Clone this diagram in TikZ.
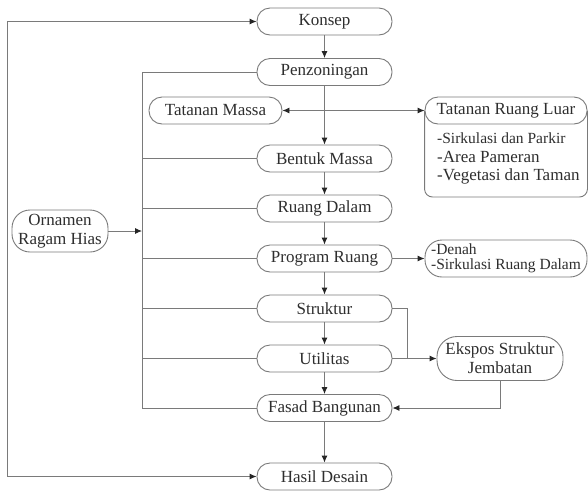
\documentclass[tikz,border=0pt]{standalone}
\usepackage{fontspec}
\setmainfont{Liberation Serif}
\usetikzlibrary{arrows.meta}
\definecolor{lncol}{HTML}{7A7A7A}
\definecolor{txcol}{HTML}{2E2E2E}
\begin{document}
\begin{tikzpicture}[x=1pt,y=-1pt,
  >={Latex[length=7pt,width=6pt,color=black!85]},
  box/.style={draw=lncol, line width=0.9pt, rounded corners=13pt,
    minimum width=135pt, minimum height=27pt, inner sep=0pt,
    font=\fontsize{17}{20}\selectfont, text=txcol, fill=white, align=center},
  ln/.style={draw=lncol, line width=0.9pt},
  arr/.style={ln, ->},
  arrb/.style={ln, <->},
]
\useasboundingbox (0,0) rectangle (588,491);
% main column
\node[box] (kon) at (324.5,21.5) {Konsep};
\node[box] (pen) at (324.5,72) {Penzoningan};
\node[box, minimum width=133pt] (tm) at (215.5,110.5) {Tatanan Massa};
\node[box] (bm) at (324.5,158.5) {Bentuk Massa};
\node[box] (rd) at (324.5,208.5) {Ruang Dalam};
\node[box] (pr) at (324.5,258.5) {Program Ruang};
\node[box] (str) at (324.5,308.5) {Struktur};
\node[box] (uti) at (324.5,358.5) {Utilitas};
\node[box] (fas) at (324.5,408) {Fasad Bangunan};
\node[box] (has) at (324.5,476.5) {Hasil Desain};
% side nodes
\node[box, minimum width=96pt, minimum height=42pt, rounded corners=18pt] (orn) at (60,231) {Ornamen\\[-1pt]Ragam Hias};
\node[box, minimum width=126pt, minimum height=44pt, rounded corners=20pt] (eks) at (500,358.5) {Ekspos Struktur\\[-1pt]Jembatan};
\node[box, minimum width=162pt, minimum height=37pt, rounded corners=17pt, align=left,
  font=\fontsize{15.5}{14.5}\selectfont] (den) at (506,258.5) {-Denah\\-Sirkulasi Ruang Dalam};
% Tatanan Ruang Luar group
\coordinate (trlb) at (506,197);
\node[box, minimum width=162pt] (trl) at (506,110.5) {Tatanan Ruang Luar};
\draw[ln, rounded corners=8pt] (trl.west) -- (trl.west |- trlb) -- (trl.east |- trlb) -- (trl.east);
\node[anchor=north west, inner sep=0pt, align=left, text=txcol,
  font=\fontsize{17}{18.5}\selectfont] (trll) at (437,133)
  {{\fontsize{15.5}{18.5}\selectfont -Sirkulasi dan Parkir}\\-Area Pameran\\-Vegetasi dan Taman};
% vertical flow
\draw[arr] (kon) -- (pen);
\draw[arr] (pen) -- (bm);
\draw[arr] (bm) -- (rd);
\draw[arr] (rd) -- (pr);
\draw[arr] (pr) -- (str);
\draw[arr] (str) -- (uti);
\draw[arr] (uti) -- (fas);
\draw[arr] (fas) -- (has);
% tatanan row
\draw[arrb] (tm.east) -- (trl.west);
% program ruang -> denah
\draw[arr] (pr.east) -- (den.west);
% bus
\coordinate (bt) at (142,72);
\coordinate (bb) at (142,408);
\draw[ln] (pen.west) -- (bt) -- (bb) -- (fas.west);
\foreach \n in {bm,rd,pr,str,uti} \draw[ln] (\n.west) -- (\n.west -| bt);
\draw[arr] (orn.east) -- (orn.east -| bt);
% loop on left
\coordinate (lt) at (7,21.5);
\coordinate (lb) at (7,476.5);
\draw[arrb] (kon.west) -- (lt) -- (lb) -- (has.west);
% struktur / utilitas -> ekspos
\coordinate (jn) at (407,358.5);
\draw[ln] (str.east) -| (jn);
\draw[arr] (uti.east) -- (eks.west);
\draw[arr] (eks.south) |- (fas.east);
\end{tikzpicture}
\end{document}
